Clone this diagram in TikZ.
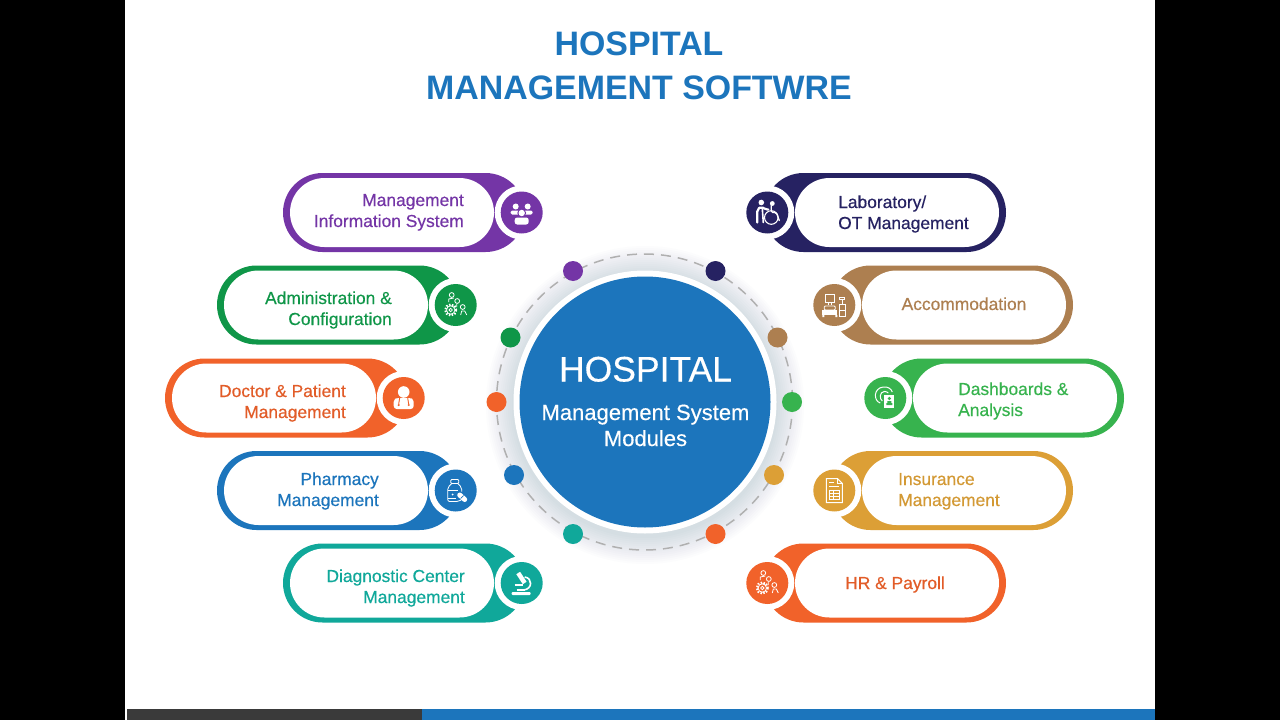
\documentclass[tikz,border=0pt]{standalone}
\usepackage{fontspec}
\setmainfont{Liberation Sans}
\newfontfamily\labfont[FakeBold=0.4]{Liberation Sans}
\newfontfamily\hubfont[FakeBold=0.3]{Liberation Sans}
\definecolor{cBlue}{HTML}{1C75BC}
\definecolor{cPurple}{HTML}{7435A6}
\definecolor{cGreen}{HTML}{0F9648}
\definecolor{cOrange}{HTML}{F1622A}
\definecolor{cTeal}{HTML}{10A89A}
\definecolor{cNavy}{HTML}{262262}
\definecolor{cBrown}{HTML}{AD7F50}
\definecolor{cLime}{HTML}{37B34E}
\definecolor{cGold}{HTML}{DC9F36}
\definecolor{cDark}{HTML}{3A3A3A}
\definecolor{cHalo}{HTML}{6F8AA6}
\colorlet{tOrange}{cOrange!94!black}
\colorlet{tGold}{cGold!96!black}
\tikzset{
  x=1pt,y=-1pt,
  pilltext/.style={font=\labfont\fontsize{17.4}{21}\selectfont,inner sep=0pt},
  iconball/.style={circle,minimum size=42pt,inner sep=0pt},
  dot/.style={circle,minimum size=20pt,inner sep=0pt},
  ic/.style={draw=white,line width=0.8pt,fill=none},
  titletext/.style={font=\bfseries\fontsize{33.9}{44}\selectfont,text=cBlue,inner sep=0pt,anchor=base},
}
% #1 name, #2 colour, #3 outer edge x, #4 centre y, #5 icon
\newcommand{\pillL}[5]{%
  \fill[#2,rounded corners=39.5pt] (#3,#4-39.5) rectangle (#3+242,#4+39.5);
  \fill[white,rounded corners=34.5pt] (#3+7,#4-34.5) rectangle (#3+211,#4+34.5);
  \fill[white] (#3+238.7,#4) circle[radius=27];
  \node[iconball,fill=#2] (#1) at (#3+238.7,#4) {};
  \begin{scope}[shift={(#3+238.7,#4)}]#5{#2}\end{scope}}
\newcommand{\pillR}[5]{%
  \fill[#2,rounded corners=39.5pt] (#3-242,#4-39.5) rectangle (#3,#4+39.5);
  \fill[white,rounded corners=34.5pt] (#3-211,#4-34.5) rectangle (#3-7,#4+34.5);
  \fill[white] (#3-238.7,#4) circle[radius=27];
  \node[iconball,fill=#2] (#1) at (#3-238.7,#4) {};
  \begin{scope}[shift={(#3-238.7,#4)}]#5{#2}\end{scope}}
% icons
\newcommand{\icPeople}[1]{%
  \fill[white] (-6,-6) circle[radius=3] (6,-6) circle[radius=3] (0,0.5) circle[radius=3.4];
  \fill[white,rounded corners=1.5pt] (-11,-2) rectangle (11,2);
  \fill[#1] (0,0.5) circle[radius=4.4];
  \fill[white] (0,0.5) circle[radius=3.2];
  \fill[white,rounded corners=2.5pt] (-7,5) rectangle (7,12);}
\newcommand{\icGears}[1]{%
  \draw[ic] (-4,-10) circle[radius=2.4] (1.5,-4) circle[radius=2.4] (7,2) circle[radius=2.4];
  \draw[ic] (-7,-3) -- (-7,-6) -- (-2,-7) (-3,2) -- (-3,-1) (1,-1) -- (1,2) (1,3) (5,10) -- (6,6) -- (9,6) -- (11,10);
  \draw[white,line width=2pt,dash pattern=on 1.5pt off 1.5pt] (-5,5) circle[radius=5.6];
  \draw[ic] (-5,5) circle[radius=4.2] (-5,5) circle[radius=1.7];}
\newcommand{\icDoctor}[1]{%
  \fill[white] (0,-6) circle[radius=5.8];
  \fill[white,rounded corners=3pt] (-10,1) -- (-6,0) -- (6,0) -- (10,1) -- (10,11) -- (-10,11) -- cycle;
  \draw[#1,line width=0.9pt] (-4,0) -- (-5,6) (4,0) -- (5,6);
  \fill[#1] (-5,7) circle[radius=1.2] (5,7) circle[radius=1.2];}
\newcommand{\icBottle}[1]{%
  \draw[ic,rounded corners=1pt] (-5,-11) rectangle (3,-7);
  \draw[ic,rounded corners=2pt] (-4,-7) -- (-8,-3) -- (-8,11) -- (3,11) -- (6,9) (6,1) -- (6,-3) -- (2,-7);
  \draw[ic] (-8,0) -- (2,0) (-8,8) -- (0,8);
  \fill[white] (-3,4) circle[radius=1];
  \draw[white,line width=5pt,line cap=round] (4,4.5) -- (9,9);
  \draw[#1,line width=0.7pt] (5,8) -- (8,5);}
\newcommand{\icScope}[1]{%
  \draw[white,line width=4.5pt] (-3.5,-10) -- (3,0);
  \draw[white,line width=1.6pt] (3,-6) .. controls (11,-5) and (11,6) .. (2,7);
  \draw[white,line width=1.5pt] (-7,2) -- (1,2);
  \draw[white,line width=1.5pt] (-5,7) -- (3,7);
  \fill[white,rounded corners=1pt] (-10,9) rectangle (9,12);}
\newcommand{\icChair}[1]{%
  \fill[white] (-6,-10) circle[radius=2.8] (5,-9) circle[radius=2.4];
  \draw[white,line width=2.2pt,line cap=round,rounded corners=2pt] (-10,10) -- (-10,-3) -- (-6,-6) -- (-2,-3) -- (1,-3);
  \draw[white,line width=1.6pt,line cap=round] (-5,-4) -- (-4,10);
  \draw[ic,line width=1.1pt] (4,5) circle[radius=6.8];
  \draw[white,line width=1.3pt,line cap=round,rounded corners=1.5pt] (4,-7) -- (4,0) -- (9,0) -- (12,8);}
\newcommand{\icBed}[1]{%
  \draw[ic] (-9,-11) rectangle (0,-3) (-6,-3) -- (-6,0) (-3,-3) -- (-3,0);
  \draw[ic,rounded corners=1pt] (-10,1) rectangle (1,5);
  \fill[white] (-12,5) rectangle (3,10);
  \fill[white] (-12,10) rectangle (-10,12) (1,10) rectangle (3,12);
  \draw[ic] (5,-1) rectangle (11,11) (5,5) -- (11,5) (8,-1) -- (8,-6);
  \draw[ic] (5.5,-8) rectangle (10.5,-6);}
\newcommand{\icDash}[1]{%
  \draw[ic,line width=1pt] (-3,-4) ++(-2,9) .. controls (-12,3) and (-12,-10) .. (-2,-11) .. controls (3,-11.5) and (6,-9) .. (7,-6);
  \draw[ic,line width=1pt] (-3,3) .. controls (-6,1) and (-6,-6) .. (-1,-6.5) .. controls (1,-6.5) and (2,-6) .. (3,-5);
  \fill[white] (-1,-3) rectangle (9,10);
  \fill[#1] (4,0.5) circle[radius=1.8];
  \fill[#1] (1,7) rectangle (7,5) (2,5) rectangle (6,3);}
\newcommand{\icDoc}[1]{%
  \draw[ic,line width=1pt] (-8,-12) -- (3,-12) -- (8,-7) -- (8,12) -- (-8,12) -- cycle;
  \draw[ic] (3,-12) -- (3,-7) -- (8,-7);
  \draw[ic] (-5,-8) -- (0,-8) (-5,-4) -- (5,-4);
  \draw[ic] (-5,0) rectangle (5,9) (-5,3) -- (5,3) (-5,6) -- (5,6) (-1,0) -- (-1,9);}
\begin{document}
\begin{tikzpicture}
\useasboundingbox (0,0) rectangle (1280,720);
\fill[black] (0,0) rectangle (1280,720);
\fill[white] (125,0) rectangle (1155,720);
\fill[cDark] (127,709) rectangle (422,720);
\fill[cBlue] (422,709) rectangle (1155,720);
\node[titletext] (t1) at (639,55) {HOSPITAL};
\node[titletext] (t2) at (639,99) {MANAGEMENT SOFTWRE};
% centre shadow
\foreach \r in {133,135,...,159}{\fill[cHalo,opacity=0.018] (645,405) circle[radius=\r];}
\draw[gray!62,line width=1.5pt,dash pattern=on 10pt off 7pt] (644.5,402) circle[radius=148];
\node[circle,fill=white,minimum size=263pt,inner sep=0pt] (hubring) at (645,402) {};
\node[circle,fill=cBlue,minimum size=251pt,inner sep=0pt] (hub) at (645,402) {};
\node[inner sep=0pt,text=white,anchor=base,font=\hubfont\fontsize{35.5}{40}\selectfont] (h1) at (645.5,381.5) {HOSPITAL};
\node[inner sep=0pt,text=white,anchor=base,font=\labfont\fontsize{22}{24}\selectfont] (h2) at (645.5,420) {Management System};
\node[inner sep=0pt,text=white,anchor=base,font=\labfont\fontsize{22}{24}\selectfont] (h3) at (645.5,446) {Modules};
% dots
\node[dot,fill=cPurple] (d1) at (573,271) {};
\node[dot,fill=cNavy] (d2) at (715.5,271) {};
\node[dot,fill=cBrown] (d3) at (777.5,337.5) {};
\node[dot,fill=cLime] (d4) at (792,402) {};
\node[dot,fill=cGold] (d5) at (774,475) {};
\node[dot,fill=cOrange] (d6) at (715.5,534) {};
\node[dot,fill=cTeal] (d7) at (573,534) {};
\node[dot,fill=cBlue] (d8) at (514,475) {};
\node[dot,fill=cOrange] (d9) at (496.5,402) {};
\node[dot,fill=cGreen] (d10) at (510.5,337.5) {};
% left modules
\pillL{mis}{cPurple}{283}{212.5}{\icPeople}
\pillL{adm}{cGreen}{217}{305}{\icGears}
\pillL{doc}{cOrange}{165}{398}{\icDoctor}
\pillL{pha}{cBlue}{217}{490.5}{\icBottle}
\pillL{dia}{cTeal}{283}{583}{\icScope}
% right modules
\pillR{lab}{cNavy}{1006}{212.5}{\icChair}
\pillR{acc}{cBrown}{1073}{305}{\icBed}
\pillR{das}{cLime}{1124}{398}{\icDash}
\pillR{ins}{cGold}{1073}{490.5}{\icDoc}
\pillR{hrp}{cOrange}{1006}{583}{\icGears}
% labels
\node[pilltext,text=cPurple,anchor=base east] (l1a) at (464,206) {Management};
\node[pilltext,text=cPurple,anchor=base east] (l1b) at (464,227) {Information System};
\node[pilltext,text=cGreen,anchor=base east] (l2a) at (392,304) {Administration \&};
\node[pilltext,text=cGreen,anchor=base east] (l2b) at (392,325) {Configuration};
\node[pilltext,text=tOrange,anchor=base east] (l3a) at (346,397) {Doctor \& Patient};
\node[pilltext,text=tOrange,anchor=base east] (l3b) at (346,418) {Management};
\node[pilltext,text=cBlue,anchor=base east] (l4a) at (379,485) {Pharmacy};
\node[pilltext,text=cBlue,anchor=base east] (l4b) at (379,506) {Management};
\node[pilltext,text=cTeal,anchor=base east] (l5a) at (465,582) {Diagnostic Center};
\node[pilltext,text=cTeal,anchor=base east] (l5b) at (465,603) {Management};
\node[pilltext,text=cNavy,anchor=base west] (r1a) at (838,208) {Laboratory/};
\node[pilltext,text=cNavy,anchor=base west] (r1b) at (838,229) {OT Management};
\node[pilltext,text=cBrown,anchor=base] (r2a) at (964,310) {Accommodation};
\node[pilltext,text=cLime,anchor=base west] (r3a) at (958,395) {Dashboards \&};
\node[pilltext,text=cLime,anchor=base west] (r3b) at (958,416) {Analysis};
\node[pilltext,text=tGold,anchor=base west] (r4a) at (898,485) {Insurance};
\node[pilltext,text=tGold,anchor=base west] (r4b) at (898,506) {Management};
\node[pilltext,text=tOrange,anchor=base] (r5a) at (895,589) {HR \& Payroll};
\end{tikzpicture}
\end{document}
